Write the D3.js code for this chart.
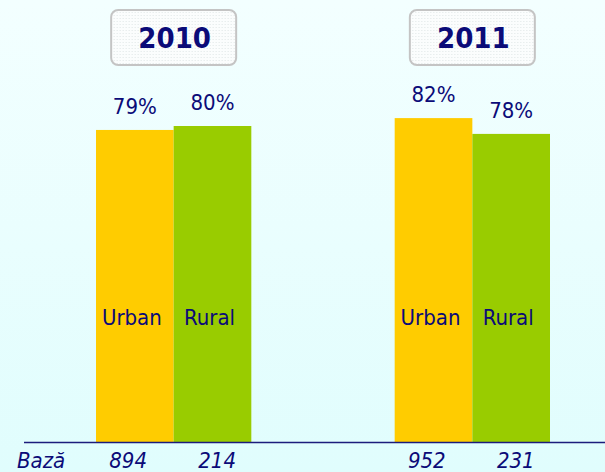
<!DOCTYPE html>
<html>
<head>
<meta charset="utf-8">
<script src="https://cdn.jsdelivr.net/npm/d3@7"></script>
<style>
  html, body { margin: 0; padding: 0; }
  body { width: 605px; height: 472px; overflow: hidden; }
  text { font-family: "DejaVu Sans Condensed", "DejaVu Sans", sans-serif; fill: #0b0b78; }
</style>
</head>
<body>
<div id="chart"></div>
<script>
// data
const years = ["2010", "2011"];
const series = ["Urban", "Rural"];
const values = {"2010": [79, 80], "2011": [82, 78]};
const bases = {"2010": [894, 214], "2011": [952, 231]};
const baseLabel = "Bază";

const colors = {Urban: "#ffcc00", Rural: "#99cc00"};

const W = 605, H = 472;
const baseY = 442;

const svg = d3.select("#chart").append("svg")
  .attr("width", W)
  .attr("height", H);

// background gradient + dotted box pattern
const defs = svg.append("defs");
const grad = defs.append("linearGradient")
  .attr("id", "bg").attr("x1", 0).attr("y1", 0).attr("x2", 0).attr("y2", 1);
grad.append("stop").attr("offset", "0%").attr("stop-color", "#f3ffff");
grad.append("stop").attr("offset", "100%").attr("stop-color", "#e0fdfd");

const pat = defs.append("pattern")
  .attr("id", "dots").attr("width", 3).attr("height", 3)
  .attr("patternUnits", "userSpaceOnUse");
pat.append("rect").attr("width", 3).attr("height", 3).attr("fill", "#fbfdfd");
pat.append("rect").attr("width", 1).attr("height", 1).attr("fill", "#dfe6e6");

svg.append("rect").attr("width", W).attr("height", H).attr("fill", "url(#bg)");

const x = d3.scaleBand()
  .domain(years)
  .range([96, 550])
  .paddingInner(0.48)
  .paddingOuter(0);

const xs = d3.scaleBand()
  .domain(series)
  .range([0, x.bandwidth()]);

// base counts sit a little wider apart than the bars
const xb = d3.scaleBand()
  .domain(series)
  .range([-89, 89]);

const y = d3.scaleLinear()
  .domain([0, 100])
  .range([baseY, 47]);

const rows = years.flatMap(yr => series.map((s, i) => ({
  year: yr, series: s, value: values[yr][i], base: bases[yr][i]
})));

const cx = d => x(d.year) + xs(d.series) + xs.bandwidth() / 2;
const gx = yr => x(yr) + x.bandwidth() / 2;

// year boxes
const boxW = 125, boxH = 55;
const box = svg.append("g").selectAll("g")
  .data(years)
  .join("g")
  .attr("transform", d => `translate(${gx(d)},0)`);

box.append("rect")
  .attr("x", -boxW / 2)
  .attr("y", 10)
  .attr("width", boxW)
  .attr("height", boxH)
  .attr("rx", 7)
  .attr("fill", "url(#dots)")
  .attr("stroke", "#c4c4c4")
  .attr("stroke-width", 2);

box.append("text")
  .attr("x", 1)
  .attr("y", 48)
  .attr("text-anchor", "middle")
  .style("font-size", "29px")
  .style("font-weight", "bold")
  .text(d => d);

// bars
svg.append("g").selectAll("rect")
  .data(rows)
  .join("rect")
  .attr("x", d => x(d.year) + xs(d.series))
  .attr("y", d => y(d.value))
  .attr("width", xs.bandwidth())
  .attr("height", d => baseY - y(d.value))
  .attr("fill", d => colors[d.series]);

// value labels
svg.append("g").selectAll("text")
  .data(rows)
  .join("text")
  .attr("x", cx)
  .attr("y", d => y(d.value) - 16)
  .attr("text-anchor", "middle")
  .style("font-size", "22px")
  .text(d => d.value + "%");

// series names inside the bars
svg.append("g").selectAll("text")
  .data(rows)
  .join("text")
  .attr("x", d => cx(d) - 3)
  .attr("y", 325)
  .attr("text-anchor", "middle")
  .style("font-size", "22px")
  .text(d => d.series);

// base line
svg.append("line")
  .attr("x1", 24).attr("x2", W)
  .attr("y1", baseY + 0.5).attr("y2", baseY + 0.5)
  .attr("stroke", "#1c1c7c")
  .attr("stroke-width", 1.5);

// base counts
svg.append("text")
  .attr("x", 17)
  .attr("y", 468)
  .style("font-size", "22px")
  .style("font-style", "italic")
  .text(baseLabel);

svg.append("g").selectAll("text")
  .data(rows)
  .join("text")
  .attr("x", d => gx(d.year) + xb(d.series) + xb.bandwidth() / 2 - 1)
  .attr("y", 468)
  .attr("text-anchor", "middle")
  .style("font-size", "22px")
  .style("font-style", "italic")
  .text(d => d.base);
</script>
</body>
</html>
